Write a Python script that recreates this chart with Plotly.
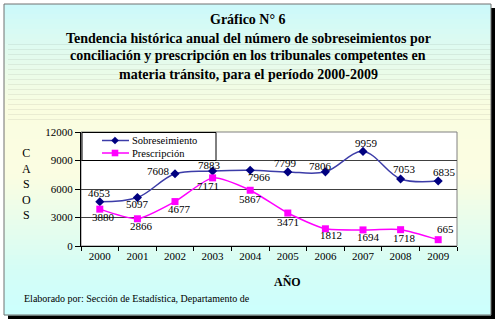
import plotly.graph_objects as go

# ---------------- data ----------------
years = ["2000", "2001", "2002", "2003", "2004", "2005", "2006", "2007", "2008", "2009"]
sobreseimiento = [4653, 5097, 7608, 7883, 7966, 7799, 7806, 9959, 7053, 6835]
prescripcion = [3880, 2866, 4677, 7171, 5867, 3471, 1812, 1694, 1718, 665]
series_names = ["Sobreseimiento", "Prescripción"]
y_ticks = [0, 3000, 6000, 9000, 12000]

title_lines = [
    "Gráfico N° 6",
    "Tendencia histórica anual del número de sobreseimientos por",
    "conciliación y prescripción en los tribunales competentes en",
    "materia tránsito, para el período 2000-2009",
]
x_title = "AÑO"
y_title = "CASOS"
footer = "Elaborado por: Sección de Estadística, Departamento de"

# ---------------- layout geometry (pixels) ----------------
W, H = 500, 324
L, R, T, B = 81, 43, 132, 78
PW, PH = W - L - R, H - T - B


def px(x):
    return (x - L) / PW


def py(y):
    return (H - B - y) / PH


SERIF = "'Liberation Serif', 'Times New Roman', 'DejaVu Serif', serif"
BLUE_LINE = "#3c3ca8"
BLUE_MK = "#000080"
PINK = "#ff00ff"

fig = go.Figure()
fig.add_trace(go.Scatter(
    x=years, y=sobreseimiento, name=series_names[0], mode="lines+markers",
    line=dict(color=BLUE_LINE, width=1.5, shape="spline", smoothing=1.0),
    marker=dict(symbol="diamond", size=7, color=BLUE_MK),
    showlegend=False,
))
fig.add_trace(go.Scatter(
    x=years, y=prescripcion, name=series_names[1], mode="lines+markers",
    line=dict(color=PINK, width=1.5, shape="spline", smoothing=0.6),
    marker=dict(symbol="square", size=7, color=PINK),
    showlegend=False,
))

shapes = []
# shadow
shapes.append(dict(type="rect", xref="paper", yref="paper", layer="below",
                   x0=px(8), x1=px(495), y0=py(319), y1=py(8),
                   fillcolor="black", line=dict(width=0)))
# gradient background bands
stops = [(0.0, (203, 249, 251)), (0.33, (250, 253, 224)), (0.55, (251, 253, 226)),
         (0.85, (213, 253, 245)), (1.0, (204, 255, 255))]


def col(f):
    for (f0, c0), (f1, c1) in zip(stops[:-1], stops[1:]):
        if f0 <= f <= f1:
            t = (f - f0) / (f1 - f0) if f1 > f0 else 0
            return "rgb(%d,%d,%d)" % tuple(round(a + (b - a) * t) for a, b in zip(c0, c1))
    return "rgb(204,255,255)"


top, bot = 4, 315
n = 62
step = (bot - top) / n
for i in range(n):
    y0 = top + i * step
    shapes.append(dict(type="rect", xref="paper", yref="paper", layer="below",
                       x0=px(4), x1=px(491), y0=py(y0 + step + 0.5), y1=py(y0),
                       fillcolor=col((i + 0.5) / n), line=dict(width=0)))
# frame border
shapes.append(dict(type="rect", xref="paper", yref="paper", layer="below",
                   x0=px(4), x1=px(491), y0=py(315), y1=py(4),
                   fillcolor="rgba(0,0,0,0)", line=dict(color="#707070", width=1)))
# plot area
shapes.append(dict(type="rect", xref="paper", yref="paper", layer="below",
                   x0=0, x1=1, y0=0, y1=1, fillcolor="white",
                   line=dict(color="#808080", width=1)))

# manual legend
lg_x0, lg_x1, lg_y0, lg_y1 = 82, 216, 132.5, 160.5
shapes.append(dict(type="rect", xref="paper", yref="paper", layer="above",
                   x0=px(lg_x0), x1=px(lg_x1), y0=py(lg_y1), y1=py(lg_y0),
                   fillcolor="white", line=dict(color="black", width=1)))
rows = [140.5, 153]
for ry, clr in zip(rows, [BLUE_LINE, PINK]):
    shapes.append(dict(type="line", xref="paper", yref="paper", layer="above",
                       x0=px(102), x1=px(129), y0=py(ry), y1=py(ry),
                       line=dict(color=clr, width=1.5)))
# diamond marker
cx, cy, r = 115, rows[0], 3.6
shapes.append(dict(type="path", xref="paper", yref="paper", layer="above",
                   path="M %f %f L %f %f L %f %f L %f %f Z" % (
                       px(cx), py(cy - r), px(cx + r), py(cy), px(cx), py(cy + r), px(cx - r), py(cy)),
                   fillcolor=BLUE_MK, line=dict(color=BLUE_MK, width=0.5)))
cx, cy, r = 115, rows[1], 3.3
shapes.append(dict(type="rect", xref="paper", yref="paper", layer="above",
                   x0=px(cx - r), x1=px(cx + r), y0=py(cy + r), y1=py(cy - r),
                   fillcolor=PINK, line=dict(color=PINK, width=0)))

annotations = []
for name, ry in zip(series_names, rows):
    annotations.append(dict(xref="paper", yref="paper", x=px(130), y=py(ry),
                            xanchor="left", yanchor="middle", showarrow=False, text=name,
                            font=dict(family=SERIF, size=10.5, color="black")))

# titles
for line, yy in zip(title_lines, [19, 38, 56, 74]):
    annotations.append(dict(xref="paper", yref="paper", x=px(248), y=py(yy),
                            xanchor="center", yanchor="middle", showarrow=False,
                            text="<b>%s</b>" % line,
                            font=dict(family=SERIF, size=14, color="black")))
annotations.append(dict(xref="paper", yref="paper", x=px(287), y=py(282),
                        xanchor="center", yanchor="middle", showarrow=False,
                        text="<b>%s</b>" % x_title,
                        font=dict(family=SERIF, size=12, color="black")))
annotations.append(dict(xref="paper", yref="paper", x=px(27), y=py(184),
                        xanchor="center", yanchor="middle", showarrow=False,
                        text="<br>".join(list(y_title)),
                        font=dict(family=SERIF, size=12, color="black")))
annotations.append(dict(xref="paper", yref="paper", x=px(22), y=py(298),
                        xanchor="left", yanchor="middle", showarrow=False,
                        text=footer,
                        font=dict(family=SERIF, size=10, color="black")))

# data labels (pixel offsets relative to points); x given as category index
sob_off = [(0, 9), (0, -6), (-17, 3), (-3, 6), (9, -7), (-2, 9), (-5, 6), (3, 8), (4, 10), (6, 9)]
pre_off = [(4, -8), (4, -7), (4, -7), (-5, -8), (0, -9), (0, -9), (6, -6), (5, -7), (4, -8), (7, 11)]
for vals, offs in ((sobreseimiento, sob_off), (prescripcion, pre_off)):
    for i, (yv, (dx, dy)) in enumerate(zip(vals, offs)):
        annotations.append(dict(xref="x", yref="y", x=i, y=yv, xshift=dx, yshift=dy,
                                showarrow=False, text=str(yv),
                                xanchor="center", yanchor="middle",
                                font=dict(family=SERIF, size=11, color="black")))

fig.update_layout(
    width=W, height=H,
    margin=dict(l=L, r=R, t=T, b=B, pad=0),
    paper_bgcolor="white", plot_bgcolor="rgba(0,0,0,0)",
    shapes=shapes, annotations=annotations,
    showlegend=False,
    xaxis=dict(type="category", range=[-0.5, 9.5], tickson="boundaries",
               ticks="outside", ticklen=4, tickcolor="black",
               showline=True, linecolor="black", linewidth=1,
               showgrid=False, zeroline=False,
               tickfont=dict(family=SERIF, size=11, color="black")),
    yaxis=dict(range=[0, 12000], tickvals=y_ticks, ticktext=[str(v) for v in y_ticks],
               ticks="outside", ticklen=5, tickcolor="black",
               showline=True, linecolor="black", linewidth=1,
               showgrid=True, gridcolor="#404040", gridwidth=1, zeroline=False,
               tickfont=dict(family=SERIF, size=11, color="black")),
)

fig.write_html("out.html")
